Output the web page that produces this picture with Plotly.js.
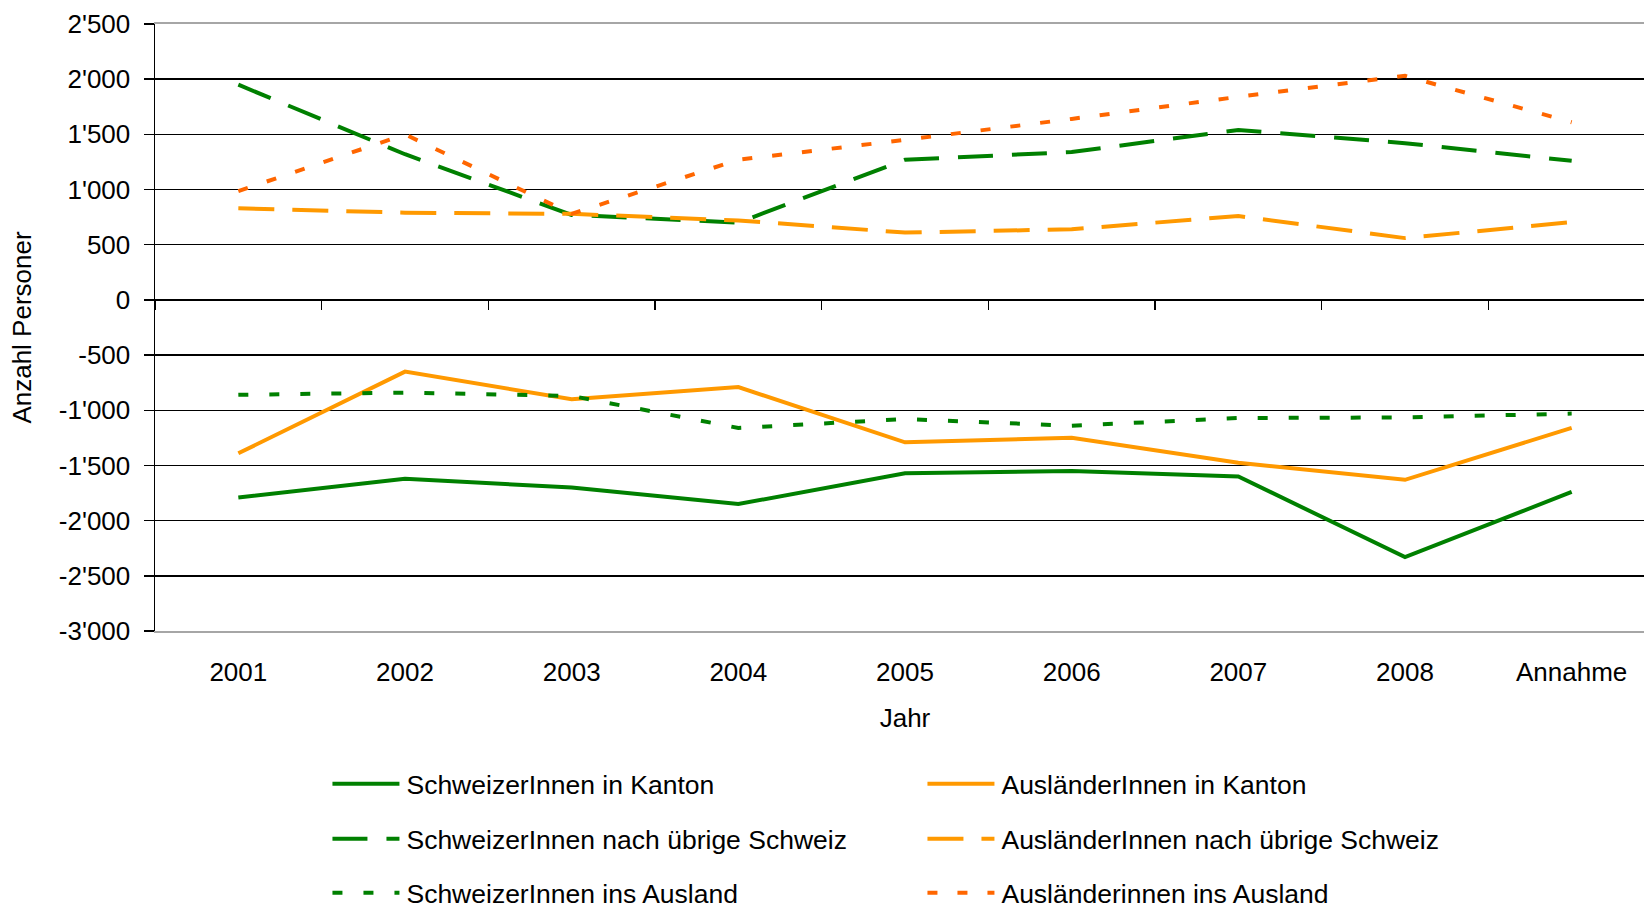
<!DOCTYPE html>
<html>
<head>
<meta charset="utf-8">
<script src="https://cdn.plot.ly/plotly-3.0.1.min.js"></script>
<style>
  html, body { margin: 0; padding: 0; background: #fff; }
  #wrap { width: 1644px; height: 909px; overflow: hidden; position: relative; }
  #chart { width: 1660px; height: 909px; }
</style>
</head>
<body>
<div id="wrap"><div id="chart"></div></div>
<script>
// ---- data ----
const categories = ["2001", "2002", "2003", "2004", "2005", "2006", "2007", "2008", "Annahme"];

const schweizerKanton      = [-1790, -1620, -1700, -1850, -1570, -1550, -1600, -2330, -1740];
const auslaenderKanton     = [-1390,  -650,  -900,  -790, -1290, -1250, -1475, -1630, -1160];
const schweizerUebrige     = [ 1950,  1320,   770,   700,  1270,  1340,  1540,  1420,  1260];
const auslaenderUebrige    = [  830,   790,   780,   720,   610,   640,   760,   560,   705];
const schweizerAusland     = [ -860,  -840,  -870, -1160, -1080, -1140, -1070, -1065, -1030];
const auslaenderAusland    = [  985,  1500,   780,  1270,  1450,  1640,  1840,  2030,  1610];

const yTickVals = [2500, 2000, 1500, 1000, 500, 0, -500, -1000, -1500, -2000, -2500, -3000];
const yTickText = ["2'500", "2'000", "1'500", "1'000", "500", "0", "-500", "-1'000", "-1'500", "-2'000", "-2'500", "-3'000"];

const seriesNames = [
  "SchweizerInnen in Kanton",
  "AusländerInnen in Kanton",
  "SchweizerInnen nach übrige Schweiz",
  "AusländerInnen nach übrige Schweiz",
  "SchweizerInnen ins Ausland",
  "Ausländerinnen ins Ausland"
];

// ---- styling ----
const GREEN = "#008000", ORANGE = "#FF9900", RED_ORANGE = "#FF6600";
const FONT = "'Liberation Sans', Arial, sans-serif";

function tr(y, name, color, dash, legend) {
  return {
    type: "scatter", mode: "lines", x: categories, y: y, name: name,
    line: { color: color, width: 4, dash: dash },
    legend: legend, hoverinfo: "x+y+name"
  };
}

const traces = [
  tr(schweizerKanton,   seriesNames[0], GREEN,      "solid",      "legend"),
  tr(auslaenderKanton,  seriesNames[1], ORANGE,     "solid",      "legend"),
  tr(schweizerUebrige,  seriesNames[2], GREEN,      "35px,19px",  "legend2"),
  tr(auslaenderUebrige, seriesNames[3], ORANGE,     "36px,18px",  "legend2"),
  tr(schweizerAusland,  seriesNames[4], GREEN,      "10px,21px",  "legend3"),
  tr(auslaenderAusland, seriesNames[5], RED_ORANGE, "10px,20px",  "legend3"),
  // helper trace that gives the zero-line category axis its categories (draws nothing)
  { type: "scatter", mode: "lines", x: categories, y: categories.map(() => null),
    xaxis: "x2", yaxis: "y", showlegend: false, hoverinfo: "skip" }
];

const plotTop = 24, plotBottom = 631, plotH = plotBottom - plotTop;
function legendY(py) { return (plotBottom - py) / plotH; }

function legendCfg(py) {
  return {
    orientation: "h", x: 0.1163, xanchor: "left", y: legendY(py), yanchor: "middle",
    font: { family: FONT, size: 26.5, color: "#000" },
    bgcolor: "rgba(0,0,0,0)", itemwidth: 67, entrywidthmode: "pixels", entrywidth: 513,
    itemclick: false, itemdoubleclick: false
  };
}

const layout = {
  width: 1660, height: 909,
  margin: { l: 155, r: 5, t: plotTop, b: 909 - plotBottom, autoexpand: false },
  paper_bgcolor: "#fff", plot_bgcolor: "#fff",
  font: { family: FONT, size: 26, color: "#000" },
  showlegend: true,
  xaxis: {
    type: "category", categoryorder: "array", categoryarray: categories,
    range: [-0.5, 8.5], showgrid: false, zeroline: false,
    showline: true, linecolor: "#A6A6A6", linewidth: 2, mirror: true,
    ticks: "", ticklabelstandoff: 17,
    tickfont: { family: FONT, size: 26, color: "#000" },
    title: { text: "Jahr", font: { family: FONT, size: 26, color: "#000" }, standoff: 23 }
  },
  xaxis2: {
    type: "category", categoryorder: "array", categoryarray: categories,
    overlaying: "x", anchor: "free", position: 3000 / 5500, side: "bottom",
    range: [-0.5, 8.5], showgrid: false, zeroline: false,
    showline: true, linecolor: "#000", linewidth: 1.5,
    ticks: "outside", ticklen: 9, tickwidth: 1.5, tickcolor: "#000", tickson: "boundaries",
    showticklabels: false
  },
  yaxis: {
    range: [-3000, 2500], tickmode: "array", tickvals: yTickVals, ticktext: yTickText,
    showgrid: true, gridcolor: "#000", gridwidth: 1.5, zeroline: false,
    showline: true, linecolor: "#000", linewidth: 1.5,
    ticks: "outside", ticklen: 10, tickwidth: 1.5, tickcolor: "#000",
    ticklabelstandoff: 8,
    tickfont: { family: FONT, size: 26, color: "#000" },
    title: { text: "Anzahl Personer", font: { family: FONT, size: 26, color: "#000" }, standoff: 19 }
  },
  legend: legendCfg(784),
  legend2: legendCfg(839),
  legend3: legendCfg(893)
};

Plotly.newPlot("chart", traces, layout, { displayModeBar: false, staticPlot: true }).then(function () {
  // lengthen the legend line samples to match the reference
  document.querySelectorAll(".legendlines path").forEach(function (p) {
    p.setAttribute("d", "M3,0h67");
  });
});
</script>
</body>
</html>
